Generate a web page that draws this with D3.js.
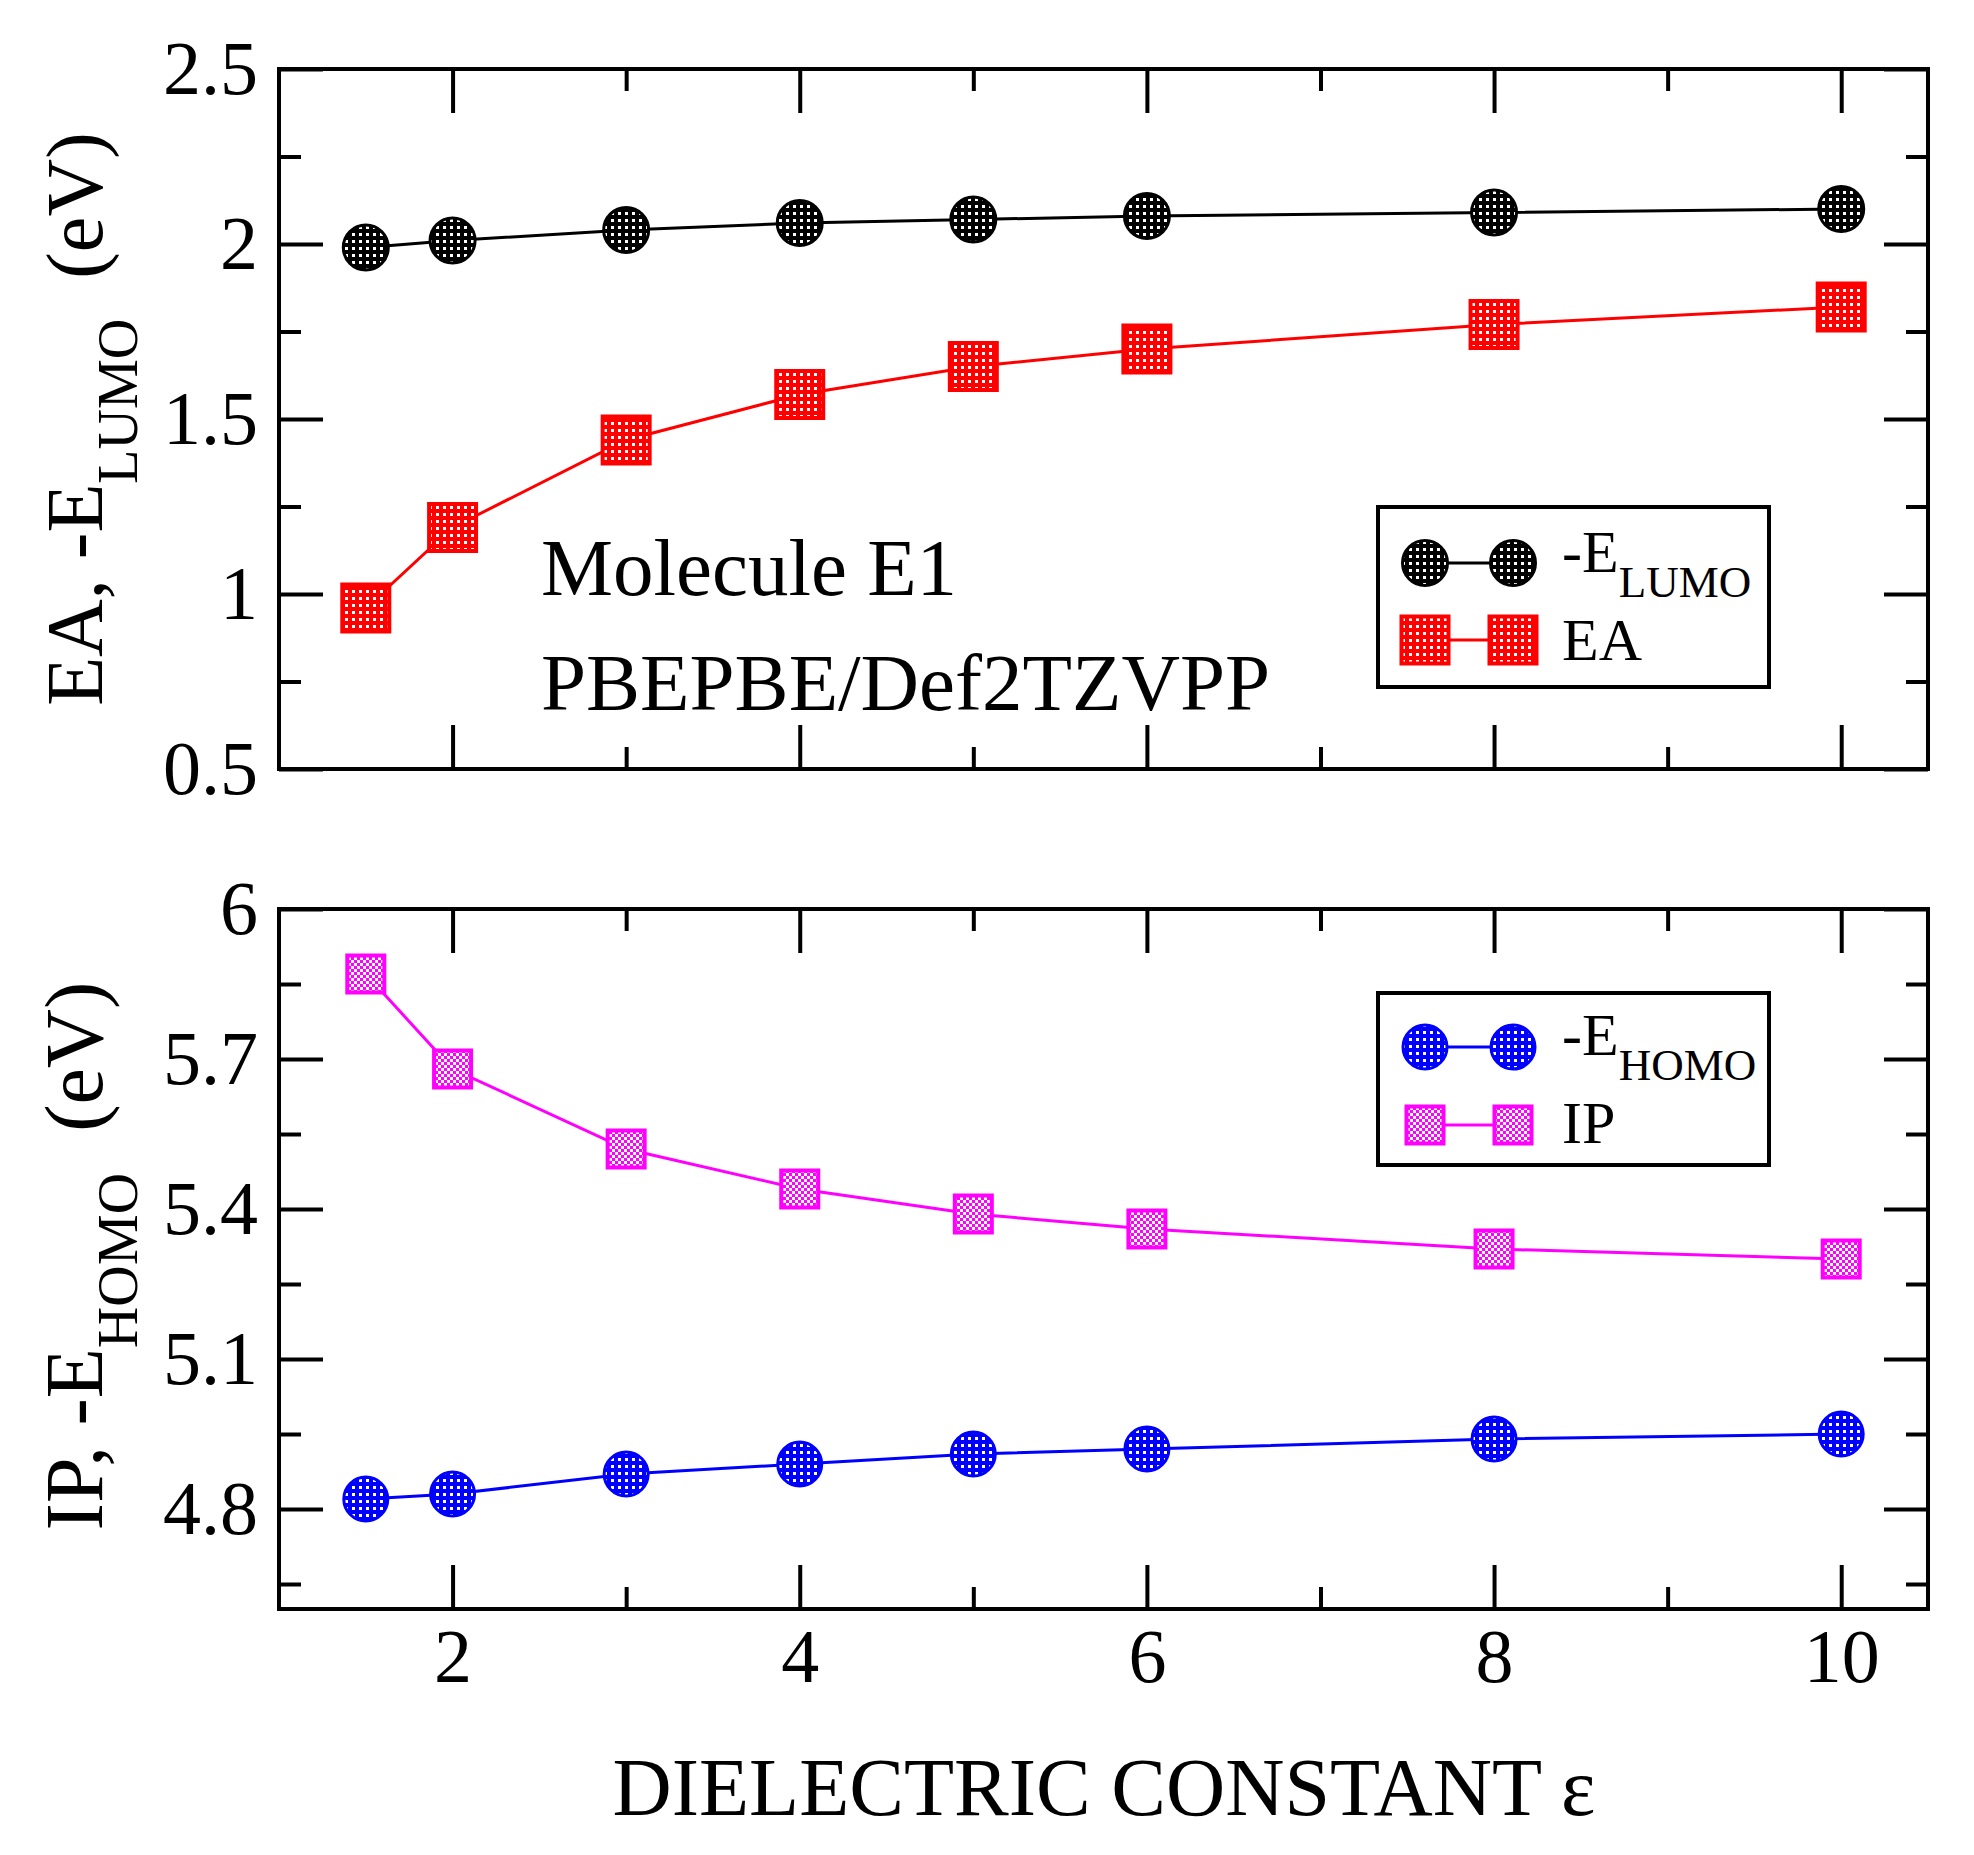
<!DOCTYPE html>
<html>
<head>
<meta charset="utf-8">
<script src="https://cdn.jsdelivr.net/npm/d3@7"></script>
<style>
body { margin: 0; background: #fff; }
text { font-family: "Liberation Serif", "Times New Roman", serif; fill: #000; }
</style>
</head>
<body>
<svg id="chart" width="1974" height="1855"></svg>
<script>
// dielectric constants used in the calculations
var epsilon = [1.5, 2, 3, 4, 5, 6, 8, 10];

// top panel, eV
var eLumo = [1.99, 2.01, 2.04, 2.06, 2.07, 2.08, 2.09, 2.10];
var ea = [0.96, 1.19, 1.44, 1.57, 1.65, 1.70, 1.77, 1.82];

// bottom panel, eV
var eHomo = [4.82, 4.83, 4.87, 4.89, 4.91, 4.92, 4.94, 4.95];
var ip = [5.87, 5.68, 5.52, 5.44, 5.39, 5.36, 5.32, 5.30];

// ticks
var xMajor = [2, 4, 6, 8, 10];
var xMinor = [3, 5, 7, 9];
var xLabels = ['2', '4', '6', '8', '10'];
var topMajor = [0.5, 1, 1.5, 2, 2.5];
var topMinor = [0.75, 1.25, 1.75, 2.25];
var topLabels = ['0.5', '1', '1.5', '2', '2.5'];
var botMajor = [4.8, 5.1, 5.4, 5.7, 6];
var botMinor = [4.65, 4.95, 5.25, 5.55, 5.85];
var botLabels = ['4.8', '5.1', '5.4', '5.7', '6'];

var svg = d3.select('#chart');

var x = d3.scaleLinear().domain([1, 10.5]).range([279, 1928]);
var yTop = d3.scaleLinear().domain([0.5, 2.5]).range([769, 69]);
var yBot = d3.scaleLinear().domain([4.6, 6.0]).range([1609, 909]);

//Fill patterns (grace style dotted fills)
var defs = svg.append('defs');
function dotPattern(id, color) {
	var p = defs.append('pattern')
		.attr('id', id)
		.attr('patternUnits', 'userSpaceOnUse')
		.attr('width', 7)
		.attr('height', 7);
	p.append('rect').attr('width', 7).attr('height', 7).attr('fill', color);
	p.append('rect').attr('x', 2).attr('y', 2).attr('width', 3).attr('height', 3).attr('fill', '#fff');
}
dotPattern('dotBlack', '#000');
dotPattern('dotRed', '#ff0000');
dotPattern('dotBlue', '#0000ff');

var chk = defs.append('pattern')
	.attr('id', 'chkMagenta')
	.attr('patternUnits', 'userSpaceOnUse')
	.attr('width', 6)
	.attr('height', 6);
chk.append('rect').attr('width', 6).attr('height', 6).attr('fill', '#fff');
chk.append('rect').attr('width', 3).attr('height', 3).attr('fill', '#ff00ff');
chk.append('rect').attr('x', 3).attr('y', 3).attr('width', 3).attr('height', 3).attr('fill', '#ff00ff');

var series = [
	{ values: eLumo, y: yTop, color: '#000', fill: 'url(#dotBlack)', shape: 'circle', size: 22.5, sw: 3 },
	{ values: ea, y: yTop, color: '#ff0000', fill: 'url(#dotRed)', shape: 'square', size: 47, sw: 4 },
	{ values: eHomo, y: yBot, color: '#0000ff', fill: 'url(#dotBlue)', shape: 'circle', size: 22, sw: 3 },
	{ values: ip, y: yBot, color: '#ff00ff', fill: 'url(#chkMagenta)', shape: 'square', size: 37, sw: 4 }
];

function marker(g, s, cx, cy) {
	if (s.shape == 'circle') {
		g.append('circle')
			.attr('cx', cx)
			.attr('cy', cy)
			.attr('r', s.size)
			.attr('fill', s.fill)
			.attr('stroke', s.color)
			.attr('stroke-width', s.sw);
	} else {
		g.append('rect')
			.attr('x', cx - s.size / 2)
			.attr('y', cy - s.size / 2)
			.attr('width', s.size)
			.attr('height', s.size)
			.attr('fill', s.fill)
			.attr('stroke', s.color)
			.attr('stroke-width', s.sw);
	}
}

//Axes with inward ticks on all four sides
function drawAxes(y, major, minor, labels, y0, y1, showX) {
	var fmtY = function (d) { return labels[major.indexOf(d)]; };
	var fmtX = function (d) { return showX ? xLabels[xMajor.indexOf(d)] : ''; };

	var ax = [
		svg.append('g').attr('transform', 'translate(0,' + y0 + ')')
			.call(d3.axisBottom(x).tickValues(xMajor).tickSize(-44).tickPadding(0).tickFormat(fmtX)),
		svg.append('g').attr('transform', 'translate(0,' + y0 + ')')
			.call(d3.axisBottom(x).tickValues(xMinor).tickSize(-22).tickFormat('')),
		svg.append('g').attr('transform', 'translate(0,' + y1 + ')')
			.call(d3.axisTop(x).tickValues(xMajor).tickSize(-44).tickFormat('')),
		svg.append('g').attr('transform', 'translate(0,' + y1 + ')')
			.call(d3.axisTop(x).tickValues(xMinor).tickSize(-22).tickFormat('')),
		svg.append('g').attr('transform', 'translate(279,0)')
			.call(d3.axisLeft(y).tickValues(major).tickSize(-44).tickPadding(21).tickFormat(fmtY)),
		svg.append('g').attr('transform', 'translate(279,0)')
			.call(d3.axisLeft(y).tickValues(minor).tickSize(-22).tickFormat('')),
		svg.append('g').attr('transform', 'translate(1928,0)')
			.call(d3.axisRight(y).tickValues(major).tickSize(-44).tickFormat('')),
		svg.append('g').attr('transform', 'translate(1928,0)')
			.call(d3.axisRight(y).tickValues(minor).tickSize(-22).tickFormat(''))
	];
	ax.forEach(function (g) {
		g.select('.domain').remove();
		g.attr('font-size', 76);
		g.selectAll('.tick line').attr('stroke-width', 4);
	});
	// x labels baseline
	ax[0].selectAll('text').attr('y', 73).attr('dy', null);
}

function drawPanel(y, list) {
	var line = d3.line()
		.x(function (d, i) { return x(epsilon[i]); })
		.y(function (d) { return y(d); });
	list.forEach(function (s) {
		svg.append('path')
			.attr('d', line(s.values))
			.attr('fill', 'none')
			.attr('stroke', s.color)
			.attr('stroke-width', 3);
	});
	list.forEach(function (s) {
		var g = svg.append('g');
		s.values.forEach(function (v, i) {
			marker(g, s, x(epsilon[i]), y(v));
		});
	});
}

drawPanel(yTop, [series[0], series[1]]);
drawPanel(yBot, [series[2], series[3]]);

drawAxes(yTop, topMajor, topMinor, topLabels, 769, 69, false);
drawAxes(yBot, botMajor, botMinor, botLabels, 1609, 909, true);

//Frames
[[69, 769], [909, 1609]].forEach(function (p) {
	svg.append('rect')
		.attr('x', 279)
		.attr('y', p[0])
		.attr('width', 1928 - 279)
		.attr('height', p[1] - p[0])
		.attr('fill', 'none')
		.attr('stroke', '#000')
		.attr('stroke-width', 4);
});

//Legends
function legend(top, bottom, rows) {
	svg.append('rect')
		.attr('x', 1378)
		.attr('y', top)
		.attr('width', 1769 - 1378)
		.attr('height', bottom - top)
		.attr('fill', '#fff')
		.attr('stroke', '#000')
		.attr('stroke-width', 4);
	rows.forEach(function (r) {
		svg.append('line')
			.attr('x1', 1425).attr('x2', 1513)
			.attr('y1', r.cy).attr('y2', r.cy)
			.attr('stroke', r.s.color)
			.attr('stroke-width', 3);
		var g = svg.append('g');
		marker(g, r.s, 1425, r.cy);
		marker(g, r.s, 1513, r.cy);
		var t = svg.append('text')
			.attr('x', 1562)
			.attr('y', r.base)
			.attr('font-size', 60)
			.text(r.label);
		if (r.sub) {
			t.append('tspan').attr('dy', 25).attr('font-size', 45).text(r.sub);
		}
	});
}
legend(507, 687, [
	{ s: series[0], cy: 563, base: 572, label: '-E', sub: 'LUMO' },
	{ s: series[1], cy: 640, base: 660, label: 'EA' }
]);
legend(993, 1165, [
	{ s: series[2], cy: 1047, base: 1055, label: '-E', sub: 'HOMO' },
	{ s: series[3], cy: 1125, base: 1143, label: 'IP' }
]);

//Annotation
svg.append('text').attr('x', 541).attr('y', 595).attr('font-size', 81).text('Molecule E1');
svg.append('text').attr('x', 541).attr('y', 710).attr('font-size', 81).text('PBEPBE/Def2TZVPP');

//Axis titles
function yTitle(cy, main, sub, fs) {
	var t = svg.append('text')
		.attr('transform', 'translate(102,' + cy + ') rotate(-90)')
		.attr('text-anchor', 'middle')
		.attr('font-size', fs)
		.text(main);
	t.append('tspan').attr('dy', 35).attr('font-size', fs * 0.7).text(sub);
	t.append('tspan').attr('dy', -35).text('\u00a0\u00a0(eV)');
}
yTitle(419, 'EA, -E', 'LUMO', 80);
yTitle(1256, 'IP, -E', 'HOMO', 82);

svg.append('text')
	.attr('x', 1104)
	.attr('y', 1815)
	.attr('text-anchor', 'middle')
	.attr('font-size', 82)
	.text('DIELECTRIC CONSTANT \u03b5');
</script>
</body>
</html>
